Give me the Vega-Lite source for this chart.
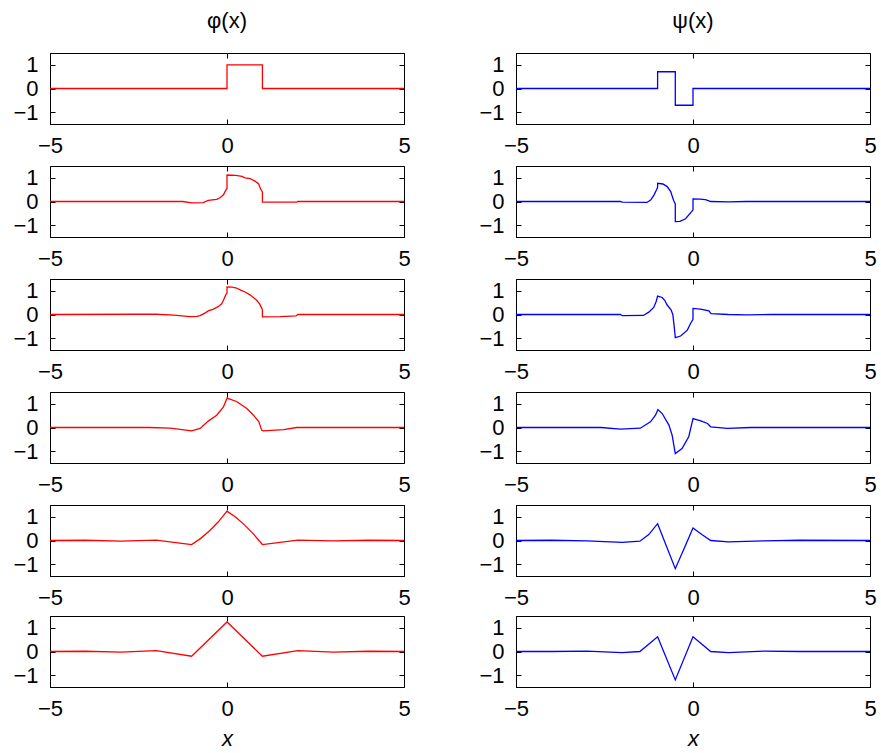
{
"$schema":"https://vega.github.io/schema/vega-lite/v6.json",
"background":"white",
"padding":{"left":12,"top":10,"right":5,"bottom":2},
"config":{
 "font":"Liberation Sans",
 "view":{"stroke":"#000","strokeWidth":1},
 "axis":{"grid":false,"domainColor":"#000","tickColor":"#000","labelColor":"#000","labelFont":"Liberation Sans","labelFontSize":22,"tickSize":-5,"labelFlush":false,"labelOverlap":false,"titleFont":"Liberation Sans","titleColor":"#000"},
 "header":{"labelFont":"Liberation Sans","labelFontSize":22,"labelColor":"#000"}
},
"datasets":{"d":[
{"r":1,"fn":"φ(x)","x":-5,"y":0},{"r":1,"fn":"φ(x)","x":0,"y":0},{"r":1,"fn":"φ(x)","x":0,"y":1},{"r":1,"fn":"φ(x)","x":1,"y":1},{"r":1,"fn":"φ(x)","x":1,"y":0},{"r":1,"fn":"φ(x)","x":5,"y":0},
{"r":1,"fn":"ψ(x)","x":-5,"y":0},{"r":1,"fn":"ψ(x)","x":-1,"y":0},{"r":1,"fn":"ψ(x)","x":-1,"y":0.707},{"r":1,"fn":"ψ(x)","x":-0.5,"y":0.707},{"r":1,"fn":"ψ(x)","x":-0.5,"y":-0.707},{"r":1,"fn":"ψ(x)","x":0,"y":-0.707},{"r":1,"fn":"ψ(x)","x":0,"y":0},{"r":1,"fn":"ψ(x)","x":5,"y":0},
{"r":2,"fn":"φ(x)","x":-5,"y":0},{"r":2,"fn":"φ(x)","x":-1.25,"y":0},{"r":2,"fn":"φ(x)","x":-1,"y":-0.06},{"r":2,"fn":"φ(x)","x":-0.67,"y":-0.05},{"r":2,"fn":"φ(x)","x":-0.53,"y":0.05},{"r":2,"fn":"φ(x)","x":-0.29,"y":0.09},{"r":2,"fn":"φ(x)","x":-0.2,"y":0.16},{"r":2,"fn":"φ(x)","x":-0.1,"y":0.28},{"r":2,"fn":"φ(x)","x":-0.03,"y":0.49},{"r":2,"fn":"φ(x)","x":0,"y":0.55},{"r":2,"fn":"φ(x)","x":0,"y":1.12},{"r":2,"fn":"φ(x)","x":0.25,"y":1.1},{"r":2,"fn":"φ(x)","x":0.42,"y":1.06},{"r":2,"fn":"φ(x)","x":0.51,"y":1.0},{"r":2,"fn":"φ(x)","x":0.65,"y":0.97},{"r":2,"fn":"φ(x)","x":0.79,"y":0.86},{"r":2,"fn":"φ(x)","x":0.89,"y":0.75},{"r":2,"fn":"φ(x)","x":0.95,"y":0.53},{"r":2,"fn":"φ(x)","x":1,"y":0.4},{"r":2,"fn":"φ(x)","x":1,"y":-0.03},{"r":2,"fn":"φ(x)","x":1.97,"y":-0.03},{"r":2,"fn":"φ(x)","x":2,"y":0},{"r":2,"fn":"φ(x)","x":5,"y":0},
{"r":2,"fn":"ψ(x)","x":-5,"y":0},{"r":2,"fn":"ψ(x)","x":-2.05,"y":0},{"r":2,"fn":"ψ(x)","x":-2,"y":-0.03},{"r":2,"fn":"ψ(x)","x":-1.3,"y":-0.04},{"r":2,"fn":"ψ(x)","x":-1.19,"y":0.07},{"r":2,"fn":"ψ(x)","x":-1.1,"y":0.28},{"r":2,"fn":"ψ(x)","x":-1.03,"y":0.5},{"r":2,"fn":"ψ(x)","x":-1,"y":0.6},{"r":2,"fn":"ψ(x)","x":-1,"y":0.77},{"r":2,"fn":"ψ(x)","x":-0.85,"y":0.74},{"r":2,"fn":"ψ(x)","x":-0.73,"y":0.63},{"r":2,"fn":"ψ(x)","x":-0.63,"y":0.42},{"r":2,"fn":"ψ(x)","x":-0.55,"y":0.05},{"r":2,"fn":"ψ(x)","x":-0.5,"y":-0.1},{"r":2,"fn":"ψ(x)","x":-0.5,"y":-0.85},{"r":2,"fn":"ψ(x)","x":-0.37,"y":-0.84},{"r":2,"fn":"ψ(x)","x":-0.21,"y":-0.73},{"r":2,"fn":"ψ(x)","x":-0.04,"y":-0.43},{"r":2,"fn":"ψ(x)","x":0,"y":-0.35},{"r":2,"fn":"ψ(x)","x":0,"y":0.11},{"r":2,"fn":"ψ(x)","x":0.2,"y":0.1},{"r":2,"fn":"ψ(x)","x":0.35,"y":0.08},{"r":2,"fn":"ψ(x)","x":0.45,"y":0.03},{"r":2,"fn":"ψ(x)","x":0.5,"y":0},{"r":2,"fn":"ψ(x)","x":1,"y":-0.02},{"r":2,"fn":"ψ(x)","x":1.5,"y":0},{"r":2,"fn":"ψ(x)","x":5,"y":0},
{"r":3,"fn":"φ(x)","x":-5,"y":0},{"r":3,"fn":"φ(x)","x":-2.5,"y":0.01},{"r":3,"fn":"φ(x)","x":-2,"y":0.01},{"r":3,"fn":"φ(x)","x":-1.5,"y":-0.03},{"r":3,"fn":"φ(x)","x":-1.05,"y":-0.09},{"r":3,"fn":"φ(x)","x":-0.85,"y":-0.08},{"r":3,"fn":"φ(x)","x":-0.76,"y":-0.05},{"r":3,"fn":"φ(x)","x":-0.6,"y":0.08},{"r":3,"fn":"φ(x)","x":-0.53,"y":0.15},{"r":3,"fn":"φ(x)","x":-0.4,"y":0.22},{"r":3,"fn":"φ(x)","x":-0.25,"y":0.33},{"r":3,"fn":"φ(x)","x":-0.15,"y":0.45},{"r":3,"fn":"φ(x)","x":-0.1,"y":0.6},{"r":3,"fn":"φ(x)","x":-0.03,"y":0.85},{"r":3,"fn":"φ(x)","x":0,"y":0.9},{"r":3,"fn":"φ(x)","x":0,"y":1.17},{"r":3,"fn":"φ(x)","x":0.15,"y":1.16},{"r":3,"fn":"φ(x)","x":0.27,"y":1.12},{"r":3,"fn":"φ(x)","x":0.4,"y":1.02},{"r":3,"fn":"φ(x)","x":0.51,"y":0.95},{"r":3,"fn":"φ(x)","x":0.65,"y":0.83},{"r":3,"fn":"φ(x)","x":0.76,"y":0.7},{"r":3,"fn":"φ(x)","x":0.84,"y":0.6},{"r":3,"fn":"φ(x)","x":0.92,"y":0.45},{"r":3,"fn":"φ(x)","x":0.97,"y":0.3},{"r":3,"fn":"φ(x)","x":1,"y":0.2},{"r":3,"fn":"φ(x)","x":1,"y":-0.1},{"r":3,"fn":"φ(x)","x":1.5,"y":-0.09},{"r":3,"fn":"φ(x)","x":1.95,"y":-0.06},{"r":3,"fn":"φ(x)","x":2,"y":0},{"r":3,"fn":"φ(x)","x":5,"y":0},
{"r":3,"fn":"ψ(x)","x":-5,"y":0},{"r":3,"fn":"ψ(x)","x":-2.05,"y":0},{"r":3,"fn":"ψ(x)","x":-2,"y":-0.05},{"r":3,"fn":"ψ(x)","x":-1.4,"y":-0.04},{"r":3,"fn":"ψ(x)","x":-1.25,"y":0.1},{"r":3,"fn":"ψ(x)","x":-1.11,"y":0.3},{"r":3,"fn":"ψ(x)","x":-1.04,"y":0.55},{"r":3,"fn":"ψ(x)","x":-1,"y":0.78},{"r":3,"fn":"ψ(x)","x":-0.87,"y":0.72},{"r":3,"fn":"ψ(x)","x":-0.8,"y":0.6},{"r":3,"fn":"ψ(x)","x":-0.73,"y":0.4},{"r":3,"fn":"ψ(x)","x":-0.62,"y":0.2},{"r":3,"fn":"ψ(x)","x":-0.57,"y":0},{"r":3,"fn":"ψ(x)","x":-0.53,"y":-0.52},{"r":3,"fn":"ψ(x)","x":-0.5,"y":-0.98},{"r":3,"fn":"ψ(x)","x":-0.35,"y":-0.91},{"r":3,"fn":"ψ(x)","x":-0.16,"y":-0.66},{"r":3,"fn":"ψ(x)","x":-0.07,"y":-0.38},{"r":3,"fn":"ψ(x)","x":0,"y":-0.2},{"r":3,"fn":"ψ(x)","x":0,"y":0.26},{"r":3,"fn":"ψ(x)","x":0.21,"y":0.23},{"r":3,"fn":"ψ(x)","x":0.45,"y":0.15},{"r":3,"fn":"ψ(x)","x":0.51,"y":0.04},{"r":3,"fn":"ψ(x)","x":1,"y":0},{"r":3,"fn":"ψ(x)","x":1.5,"y":-0.02},{"r":3,"fn":"ψ(x)","x":2.2,"y":0},{"r":3,"fn":"ψ(x)","x":5,"y":0},
{"r":4,"fn":"φ(x)","x":-5,"y":0},{"r":4,"fn":"φ(x)","x":-2.2,"y":0},{"r":4,"fn":"φ(x)","x":-1.6,"y":-0.03},{"r":4,"fn":"φ(x)","x":-1,"y":-0.14},{"r":4,"fn":"φ(x)","x":-0.76,"y":-0.04},{"r":4,"fn":"φ(x)","x":-0.53,"y":0.27},{"r":4,"fn":"φ(x)","x":-0.29,"y":0.52},{"r":4,"fn":"φ(x)","x":-0.1,"y":0.87},{"r":4,"fn":"φ(x)","x":0,"y":1.24},{"r":4,"fn":"φ(x)","x":0.27,"y":1.1},{"r":4,"fn":"φ(x)","x":0.56,"y":0.8},{"r":4,"fn":"φ(x)","x":0.75,"y":0.52},{"r":4,"fn":"φ(x)","x":0.9,"y":0.24},{"r":4,"fn":"φ(x)","x":0.98,"y":-0.11},{"r":4,"fn":"φ(x)","x":1.03,"y":-0.14},{"r":4,"fn":"φ(x)","x":1.6,"y":-0.09},{"r":4,"fn":"φ(x)","x":1.97,"y":0},{"r":4,"fn":"φ(x)","x":5,"y":0},
{"r":4,"fn":"ψ(x)","x":-5,"y":0},{"r":4,"fn":"ψ(x)","x":-2.6,"y":0},{"r":4,"fn":"ψ(x)","x":-2.05,"y":-0.07},{"r":4,"fn":"ψ(x)","x":-1.49,"y":-0.03},{"r":4,"fn":"ψ(x)","x":-1.2,"y":0.24},{"r":4,"fn":"ψ(x)","x":-1.06,"y":0.52},{"r":4,"fn":"ψ(x)","x":-0.99,"y":0.76},{"r":4,"fn":"ψ(x)","x":-0.87,"y":0.59},{"r":4,"fn":"ψ(x)","x":-0.68,"y":0.1},{"r":4,"fn":"ψ(x)","x":-0.59,"y":-0.32},{"r":4,"fn":"ψ(x)","x":-0.5,"y":-1.1},{"r":4,"fn":"ψ(x)","x":-0.31,"y":-0.89},{"r":4,"fn":"ψ(x)","x":-0.12,"y":-0.39},{"r":4,"fn":"ψ(x)","x":0,"y":0.38},{"r":4,"fn":"ψ(x)","x":0.22,"y":0.28},{"r":4,"fn":"ψ(x)","x":0.41,"y":0.17},{"r":4,"fn":"ψ(x)","x":0.5,"y":0.03},{"r":4,"fn":"ψ(x)","x":0.97,"y":-0.04},{"r":4,"fn":"ψ(x)","x":1.63,"y":0},{"r":4,"fn":"ψ(x)","x":5,"y":0},
{"r":5,"fn":"φ(x)","x":-5,"y":0},{"r":5,"fn":"φ(x)","x":-4,"y":0.01},{"r":5,"fn":"φ(x)","x":-3,"y":-0.03},{"r":5,"fn":"φ(x)","x":-2,"y":0.02},{"r":5,"fn":"φ(x)","x":-1,"y":-0.17},{"r":5,"fn":"φ(x)","x":-0.75,"y":0.08},{"r":5,"fn":"φ(x)","x":-0.5,"y":0.4},{"r":5,"fn":"φ(x)","x":-0.25,"y":0.78},{"r":5,"fn":"φ(x)","x":0,"y":1.24},{"r":5,"fn":"φ(x)","x":0.25,"y":0.98},{"r":5,"fn":"φ(x)","x":0.5,"y":0.65},{"r":5,"fn":"φ(x)","x":0.75,"y":0.27},{"r":5,"fn":"φ(x)","x":1,"y":-0.17},{"r":5,"fn":"φ(x)","x":2,"y":0.02},{"r":5,"fn":"φ(x)","x":3,"y":-0.02},{"r":5,"fn":"φ(x)","x":4,"y":0.01},{"r":5,"fn":"φ(x)","x":5,"y":0},
{"r":5,"fn":"ψ(x)","x":-5,"y":0},{"r":5,"fn":"ψ(x)","x":-4,"y":0.01},{"r":5,"fn":"ψ(x)","x":-3,"y":-0.02},{"r":5,"fn":"ψ(x)","x":-2,"y":-0.08},{"r":5,"fn":"ψ(x)","x":-1.5,"y":-0.03},{"r":5,"fn":"ψ(x)","x":-1.25,"y":0.25},{"r":5,"fn":"ψ(x)","x":-1,"y":0.71},{"r":5,"fn":"ψ(x)","x":-0.5,"y":-1.19},{"r":5,"fn":"ψ(x)","x":-0.25,"y":-0.34},{"r":5,"fn":"ψ(x)","x":0,"y":0.53},{"r":5,"fn":"ψ(x)","x":0.25,"y":0.25},{"r":5,"fn":"ψ(x)","x":0.5,"y":0},{"r":5,"fn":"ψ(x)","x":1,"y":-0.06},{"r":5,"fn":"ψ(x)","x":2,"y":-0.02},{"r":5,"fn":"ψ(x)","x":3,"y":0.01},{"r":5,"fn":"ψ(x)","x":5,"y":0},
{"r":6,"fn":"φ(x)","x":-5,"y":0},{"r":6,"fn":"φ(x)","x":-4,"y":0.01},{"r":6,"fn":"φ(x)","x":-3,"y":-0.03},{"r":6,"fn":"φ(x)","x":-2,"y":0.04},{"r":6,"fn":"φ(x)","x":-1,"y":-0.2},{"r":6,"fn":"φ(x)","x":0,"y":1.25},{"r":6,"fn":"φ(x)","x":1,"y":-0.2},{"r":6,"fn":"φ(x)","x":2,"y":0.04},{"r":6,"fn":"φ(x)","x":3,"y":-0.03},{"r":6,"fn":"φ(x)","x":4,"y":0.01},{"r":6,"fn":"φ(x)","x":5,"y":0},
{"r":6,"fn":"ψ(x)","x":-5,"y":0},{"r":6,"fn":"ψ(x)","x":-4,"y":0},{"r":6,"fn":"ψ(x)","x":-3,"y":0.02},{"r":6,"fn":"ψ(x)","x":-2,"y":-0.05},{"r":6,"fn":"ψ(x)","x":-1.5,"y":0},{"r":6,"fn":"ψ(x)","x":-1,"y":0.62},{"r":6,"fn":"ψ(x)","x":-0.5,"y":-1.2},{"r":6,"fn":"ψ(x)","x":0,"y":0.62},{"r":6,"fn":"ψ(x)","x":0.5,"y":0},{"r":6,"fn":"ψ(x)","x":1,"y":-0.05},{"r":6,"fn":"ψ(x)","x":2,"y":0.02},{"r":6,"fn":"ψ(x)","x":3,"y":0},{"r":6,"fn":"ψ(x)","x":5,"y":0}
]},
"data":{"name":"d"},
"spacing":6,
"vconcat":[
 {
  "transform":[{"filter":"datum.r <= 5"}],
  "facet":{
   "row":{"field":"r","type":"ordinal","header":{"labels":false,"title":null}},
   "column":{"field":"fn","type":"nominal","header":{"title":null,"labelPadding":20}}
  },
  "spacing":{"row":42,"column":112},
  "bounds":"flush",
  "resolve":{"axis":{"x":"independent","y":"independent"}},
  "spec":{
   "width":354,"height":71,
   "layer":[
    {"mark":{"type":"point","opacity":0,"size":1},
     "encoding":{
      "x":{"field":"x","type":"quantitative","axis":{"values":[-5,0,5],"title":null,"orient":"top","labels":false,"domain":false}},
      "y":{"field":"y","type":"quantitative","axis":{"values":[-1,0,1],"title":null,"orient":"right","labels":false,"domain":false}}}},
    {"mark":{"type":"line","strokeWidth":1.3},
     "encoding":{
      "x":{"field":"x","type":"quantitative","scale":{"domain":[-5,5],"nice":false,"zero":false},"axis":{"values":[-5,0,5],"title":null,"orient":"bottom","labelPadding":16}},
      "y":{"field":"y","type":"quantitative","scale":{"domain":[-1.5,1.5],"nice":false},"axis":{"values":[-1,0,1],"title":null,"orient":"left","labelPadding":17}},
      "color":{"field":"fn","type":"nominal","scale":{"domain":["φ(x)","ψ(x)"],"range":["#ff0000","#0000ff"]},"legend":null},
      "order":{"value":null}}}
   ],
   "resolve":{"axis":{"x":"independent","y":"independent"}}
  }
 },
 {
  "transform":[{"filter":"datum.r == 6"}],
  "facet":{
   "column":{"field":"fn","type":"nominal","header":{"labels":false,"title":null}}
  },
  "spacing":{"column":112},
  "bounds":"flush",
  "resolve":{"axis":{"x":"independent","y":"independent"}},
  "spec":{
   "width":354,"height":71,
   "layer":[
    {"mark":{"type":"point","opacity":0,"size":1},
     "encoding":{
      "x":{"field":"x","type":"quantitative","axis":{"values":[-5,0,5],"title":null,"orient":"top","labels":false,"domain":false}},
      "y":{"field":"y","type":"quantitative","axis":{"values":[-1,0,1],"title":null,"orient":"right","labels":false,"domain":false}}}},
    {"mark":{"type":"line","strokeWidth":1.3},
     "encoding":{
      "x":{"field":"x","type":"quantitative","scale":{"domain":[-5,5],"nice":false,"zero":false},"axis":{"values":[-5,0,5],"title":"x","titleFontStyle":"italic","titleFontWeight":"normal","titleFontSize":22,"titlePadding":9,"orient":"bottom","labelPadding":16}},
      "y":{"field":"y","type":"quantitative","scale":{"domain":[-1.5,1.5],"nice":false},"axis":{"values":[-1,0,1],"title":null,"orient":"left","labelPadding":17}},
      "color":{"field":"fn","type":"nominal","scale":{"domain":["φ(x)","ψ(x)"],"range":["#ff0000","#0000ff"]},"legend":null},
      "order":{"value":null}}}
   ],
   "resolve":{"axis":{"x":"independent","y":"independent"}}
  }
 }
]
}
